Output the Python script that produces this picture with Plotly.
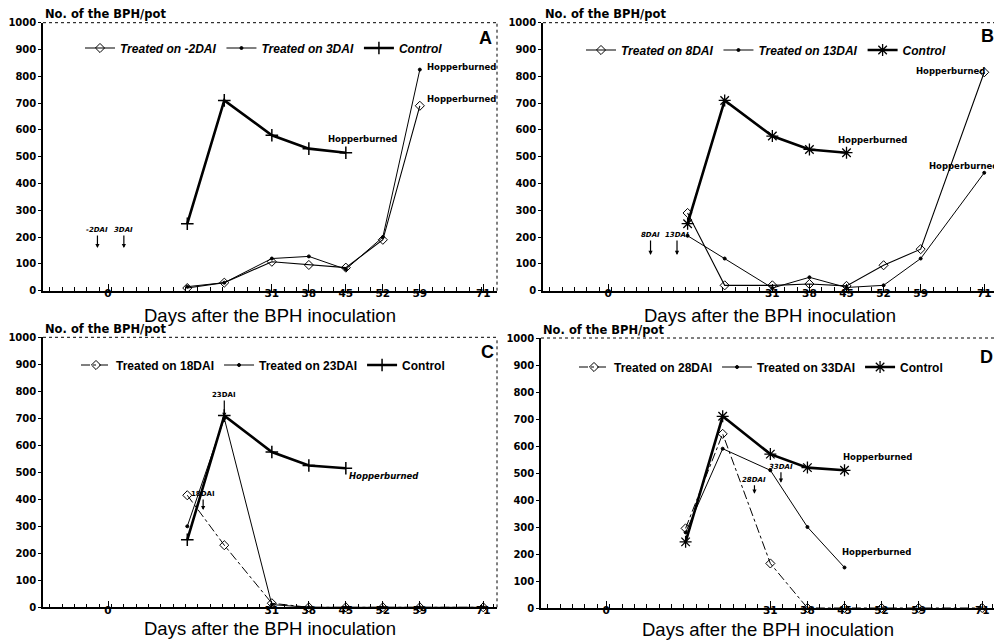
import plotly.graph_objects as go

# ---------------- data ----------------
days = [15, 22, 31, 38, 45, 52, 59, 71]
x_tick_vals = [0, 31, 38, 45, 52, 59, 71]
x_tick_text = ["0", "31", "38", "45", "52", "59", "71"]
y_tick_vals = [0, 100, 200, 300, 400, 500, 600, 700, 800, 900, 1000]

# Panel A
a_control = [250, 710, 580, 530, 515]
a_treat_m2 = [10, 30, 108, 96, 86, 190, 690]
a_treat_3 = [15, 30, 120, 128, 80, 200, 825]
# Panel B
b_control = [250, 710, 577, 527, 515]
b_treat_8 = [290, 20, 20, 25, 18, 95, 155, 815]
b_treat_13 = [205, 120, 10, 50, 12, 20, 120, 440]
# Panel C
c_control = [250, 710, 575, 525, 515]
c_treat_18 = [415, 230, 15, 0, 0, 0, 0, 0]
c_treat_23 = [300, 700, 10, 0, 0, 0, 0, 0]
# Panel D
d_control = [245, 710, 570, 520, 510]
d_treat_28 = [295, 645, 165, 0, 0, 0, 0, 0]
d_treat_33 = [280, 590, 510, 300, 150]

OFFX, OFFY = 8, 8  # default page body margin of the written html
W, H = 1002 - OFFX, 642 - OFFY
BOLD = "DejaVu Sans"
SANS = "Liberation Sans"


def px(xp):
    return (xp - OFFX) / W


def py(yp):
    return 1 - (yp - OFFY) / H


fig = go.Figure()

# panel geometry in page pixels: (left, right, top, bottom)
panels = {
    "A": (43, 497, 22.7, 290.7),
    "B": (543, 998, 22.7, 290.7),
    "C": (43, 497, 337.3, 607.3),
    "D": (541, 996, 338, 608),
}
axis_ids = {"A": ("x", "y"), "B": ("x2", "y2"), "C": ("x3", "y3"), "D": ("x4", "y4")}
legend_ids = {"A": "legend", "B": "legend2", "C": "legend3", "D": "legend4"}
title_gap = {"A": 24.5, "B": 24.5, "C": 21.5, "D": 21.5}


def add_series(panel, name, xs, ys, symbol, msize, lw, dash="solid", mlw=1):
    xa, ya = axis_ids[panel]
    fig.add_trace(go.Scatter(
        x=xs, y=ys, name=name, mode="lines+markers",
        line=dict(color="black", width=lw, dash=dash),
        marker=dict(symbol=symbol, size=msize, color="black",
                    line=dict(color="black", width=mlw)),
        xaxis=xa, yaxis=ya, legend=legend_ids[panel], cliponaxis=False,
    ))


# A
add_series("A", "Treated on -2DAI", days[:len(a_treat_m2)], a_treat_m2, "diamond-open", 7, 1.1)
add_series("A", "Treated on 3DAI", days[:len(a_treat_3)], a_treat_3, "circle", 3, 1.0)
add_series("A", "Control", days[:len(a_control)], a_control, "cross-thin-open", 9, 2.6, mlw=1.5)
# B
add_series("B", "Treated on 8DAI", days[:len(b_treat_8)], b_treat_8, "diamond-open", 7, 1.1)
add_series("B", "Treated on 13DAI", days[:len(b_treat_13)], b_treat_13, "circle", 3, 1.0)
add_series("B", "Control", days[:len(b_control)], b_control, "asterisk-open", 10, 2.6, mlw=1.3)
# C
add_series("C", "Treated on 18DAI", days[:len(c_treat_18)], c_treat_18, "diamond-open", 7, 1.0, dash="dashdot")
add_series("C", "Treated on 23DAI", days[:len(c_treat_23)], c_treat_23, "circle", 3, 1.0)
add_series("C", "Control", days[:len(c_control)], c_control, "cross-thin-open", 9, 2.6, mlw=1.5)
# D
add_series("D", "Treated on 28DAI", days[:len(d_treat_28)], d_treat_28, "diamond-open", 7, 1.0, dash="dashdot")
add_series("D", "Treated on 33DAI", days[:len(d_treat_33)], d_treat_33, "circle", 3, 1.0)
add_series("D", "Control", days[:len(d_control)], d_control, "asterisk-open", 10, 2.6, mlw=1.3)

layout = dict(
    width=W, height=H, margin=dict(l=0, r=0, t=0, b=0, autoexpand=False),
    paper_bgcolor="white", plot_bgcolor="white",
    font=dict(family=BOLD, color="black"),
    showlegend=True,
)

legend_pos = {
    "A": (80, 48, "italic"),
    "B": (581, 50, "italic"),
    "C": (76, 365, "normal"),
    "D": (574, 367, "normal"),
}

shapes = []
annotations = []
for p, (l, r, t, b) in panels.items():
    xa, ya = axis_ids[p]
    xkey = "xaxis" + xa[1:]
    ykey = "yaxis" + ya[1:]
    layout[xkey] = dict(
        domain=[px(l), px(r)], anchor=ya, range=[-12.3, 73.6],
        tickmode="array", tickvals=x_tick_vals, ticktext=x_tick_text,
        ticks="inside", ticklen=7, tickwidth=1.2, tickcolor="black",
        minor=dict(tickmode="linear", tick0=31, dtick=7 / 3, ticks="inside",
                   ticklen=4, tickwidth=1, tickcolor="black"),
        showline=True, linecolor="black", linewidth=1.5,
        showgrid=False, zeroline=False, automargin=False,
        ticklabelstandoff=-8,
        tickfont=dict(family=BOLD, size=10.5, color="black", weight="bold"),
    )
    layout[ykey] = dict(
        domain=[py(b), py(t)], anchor=xa, range=[0, 1000],
        tickmode="array", tickvals=y_tick_vals,
        ticks="outside", ticklen=3, tickwidth=1, tickcolor="black",
        showline=True, linecolor="black", linewidth=1.5,
        showgrid=False, zeroline=False, automargin=False,
        tickfont=dict(family=BOLD, size=10, color="black", weight="bold"),
    )
    lx, ly, style = legend_pos[p]
    layout[legend_ids[p]] = dict(
        x=px(lx), y=py(ly), xanchor="left", yanchor="middle",
        orientation="h", bgcolor="rgba(0,0,0,0)", itemwidth=30,
        font=dict(family=SANS, size=12, color="black", weight="bold", style=style),
        tracegroupgap=0,
    )
    # dotted top and right frame
    shapes.append(dict(type="line", xref=xa + " domain", yref=ya + " domain",
                       x0=0, x1=1, y0=1, y1=1, line=dict(color="black", width=1, dash="dot")))
    shapes.append(dict(type="line", xref=xa + " domain", yref=ya + " domain",
                       x0=1, x1=1, y0=0, y1=1, line=dict(color="black", width=1, dash="dot")))
    # y-axis title
    annotations.append(dict(text="No. of the BPH/pot", xref="paper", yref="paper",
                            x=px(l), y=py(t - 8.5), xanchor="left", yanchor="middle",
                            showarrow=False, font=dict(family=BOLD, size=11.5, weight="bold")))
    # x-axis title
    annotations.append(dict(text="Days after the BPH inoculation", xref="paper", yref="paper",
                            x=px(l + 227), y=py(b + title_gap[p]), xanchor="center", yanchor="middle",
                            showarrow=False, font=dict(family=SANS, size=18.5)))

# panel letters
letters = {"A": (0.974, 0.943), "B": (0.978, 0.95), "C": (0.978, 0.946), "D": (0.98, 0.93)}
for p, (fx, fy) in letters.items():
    xa, ya = axis_ids[p]
    annotations.append(dict(text=p, xref=xa + " domain", yref=ya + " domain", x=fx, y=fy,
                            xanchor="center", yanchor="middle", showarrow=False,
                            font=dict(family=SANS, size=18, weight="bold")))

# "Hopperburned" labels: (panel, x day, y value, xanchor)
hopper = [
    ("A", 48.2, 565, "center"), ("A", 59.9, 835, "left"), ("A", 59.9, 715, "left"),
    ("B", 49.9, 562, "center"), ("B", 64.6, 820, "center"), ("B", 67.0, 465, "center"),
    ("C", 45.2, 487, "left"),
    ("D", 51.2, 558, "center"), ("D", 51.0, 208, "center"),
]
for p, hx, hy, anc in hopper:
    xa, ya = axis_ids[p]
    annotations.append(dict(text="Hopperburned", xref=xa, yref=ya, x=hx, y=hy,
                            xanchor=anc, yanchor="middle", showarrow=False,
                            font=dict(family=BOLD, size=8.5, weight="bold",
                                      style="italic" if p == "C" else "normal")))

# treatment-time arrows: (panel, label, day, arrow tip value, text offset px)
arrows = [
    ("A", "-2DAI", -2, 159, 18), ("A", "3DAI", 3, 159, 18),
    ("B", "8DAI", 8, 133, 20), ("B", "13DAI", 13, 133, 20),
    ("C", "18DAI", 18, 360, 16), ("C", "23DAI", 22, 705, 22),
    ("D", "28DAI", 28, 423, 14), ("D", "33DAI", 33, 464, 16),
]
for p, txt, ax_day, tip, off in arrows:
    xa, ya = axis_ids[p]
    annotations.append(dict(text=txt, xref=xa, yref=ya, x=ax_day, y=tip,
                            ax=0, ay=-off, showarrow=True, arrowhead=2, arrowsize=0.7,
                            arrowwidth=1.2, arrowcolor="black", standoff=0,
                            font=dict(family=BOLD, size=7, weight="bold",
                                      style="italic" if p in ("A", "B", "D") else "normal")))

layout["shapes"] = shapes
layout["annotations"] = annotations
fig.update_layout(**layout)

fig.write_html("out.html")
